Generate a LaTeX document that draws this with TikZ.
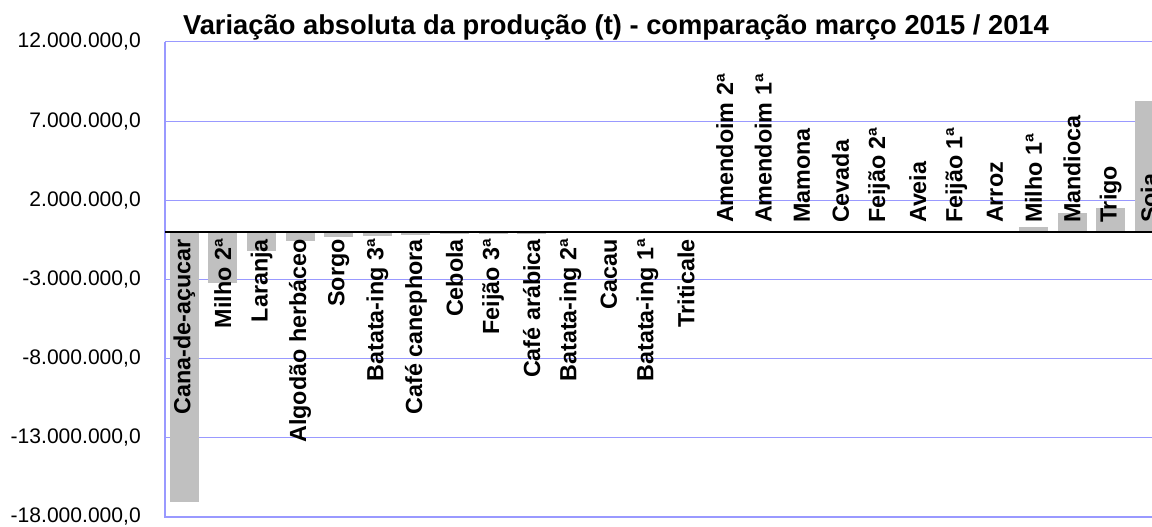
\documentclass[tikz,border=0pt]{standalone}
\usepackage{fontspec}
\setmainfont{Liberation Sans}
\definecolor{gridblue}{RGB}{153,153,255}
\definecolor{bargray}{RGB}{192,192,192}

\begin{document}
\begin{tikzpicture}[x=0.75pt, y=11.875pt,
    gridline/.style={gridblue, line width=0.75pt},
    frameline/.style={gridblue, line width=1.2pt},
    bar/.style={fill=bargray},
    catlabel/.style={rotate=90, inner sep=0pt, font=\fontsize{17.5}{18}\selectfont\bfseries},
    ticklabel/.style={anchor=east, inner sep=0pt, font=\fontsize{15.8}{17}\selectfont}]
    \clip (0,14.65) rectangle (1152,-18.63);
    \foreach \v/\txt in {12/12.000.000{,}0, 7/7.000.000{,}0, 2/2.000.000{,}0,
        -3/-3.000.000{,}0, -8/-8.000.000{,}0, -13/-13.000.000{,}0, -18/-18.000.000{,}0} {
      \draw[gridline] (165,\v) -- (1175,\v);
      \node[ticklabel] (tk\v) at (141,\v) {\txt};
    }
    \draw[frameline] (165,12) -- (165,-18) -- (1175,-18);
    \foreach \lbl/\val [count=\i from 0] in {Cana-de-açucar/-17.07, Milho 2ª/-3.25,
        Laranja/-1.18, Algodão herbáceo/-0.55, Sorgo/-0.30, Batata-ing 3ª/-0.23,
        Café canephora/-0.18, Cebola/-0.15, Feijão 3ª/-0.12, Café arábica/-0.10,
        Batata-ing 2ª/-0.08, Cacau/-0.07, Batata-ing 1ª/-0.06, Triticale/-0.05,
        Amendoim 2ª/0.0, Amendoim 1ª/0.01, Mamona/0.02, Cevada/0.06, Feijão 2ª/0.06,
        Aveia/0.06, Feijão 1ª/0.07, Arroz/0.08, Milho 1ª/0.34, Mandioca/1.22,
        Trigo/1.54, Soia/8.29} {
      \pgfmathsetmacro\cx{165+38.6*(\i+0.5)}
      \fill[bar] (\cx-14.5,0) rectangle (\cx+14.5,\val);
      \ifdim\val pt<0pt
        \node[catlabel, anchor=east] (cat\i) at (\cx,-0.44) {\lbl};
      \else
        \node[catlabel, anchor=west] (cat\i) at (\cx,0.55) {\lbl};
      \fi
    }
    \draw[black, line width=0.9pt] (165,0) -- (1175,0);
    \node[anchor=base, inner sep=0pt, font=\fontsize{20.5}{22}\selectfont\bfseries] (title)
      at (616,12.44) {Variação absoluta da produção (t) - comparação março 2015 / 2014};
\end{tikzpicture}
\end{document}
